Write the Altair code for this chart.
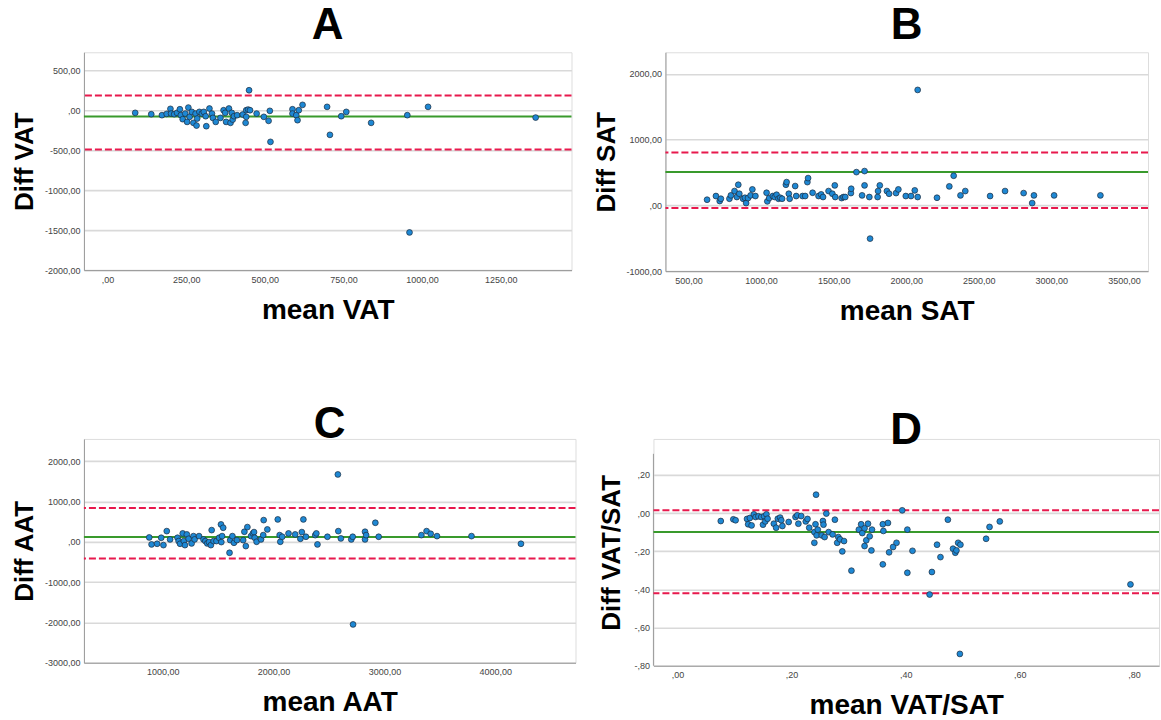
import altair as alt
import pandas as pd

FONT = "Liberation Sans"

# ---------------- Panel A: VAT ----------------
a_mean = [88, 139, 173, 188, 200, 202, 212, 221, 230, 233, 239, 247, 253, 257, 261, 268, 273, 280, 283, 285,
          292, 300, 306, 312, 314, 324, 332, 335, 344, 359, 369, 374, 377, 386, 391, 395, 398, 402, 412, 430,
          439, 441, 441, 447, 450, 453, 474, 497, 512, 516, 518, 588, 588, 600, 604, 608, 620, 698, 707, 743,
          759, 838, 953, 960, 1019, 1361]
a_diff = [-33, -50, -62, -46, 17, -42, -50, -33, 12, -62, -112, -42, -146, 33, -83, -21, -158, -42, -192, -104,
          -21, -42, -21, -75, -200, 21, -42, -96, -146, -96, 0, -33, -146, 21, -158, -33, -117, -75, -62, -54,
          -158, -83, 0, 8, 250, 0, -42, -83, -133, -8, -396, 12, -42, -62, -125, 0, 67, 42, -308, -75,
          -21, -158, -62, -1529, 42, -92]
a_limits = [185, -78, -490]  # upper LoA, bias, lower LoA

# ---------------- Panel B: SAT ----------------
b_mean = [628, 689, 715, 723, 782, 792, 817, 833, 843, 850, 876, 889, 897, 910, 928, 940, 961, 1038, 1043, 1056,
          1081, 1094, 1107, 1120, 1132, 1145, 1171, 1176, 1191, 1197, 1235, 1242, 1286, 1304, 1319, 1324, 1355, 1396,
          1414, 1427, 1465, 1491, 1508, 1511, 1555, 1568, 1580, 1619, 1621, 1657, 1696, 1713, 1713, 1746, 1751, 1803,
          1806, 1818, 1867, 1882, 1930, 1946, 1997, 2033, 2059, 2079, 2079, 2212, 2297, 2327, 2374, 2407, 2578, 2681,
          2809, 2868, 2880, 3019, 3338]
b_diff = [86, 142, 66, 101, 101, 152, 218, 127, 314, 177, 101, 116, 35, 111, 152, 243, 142, 192, 61, 111,
          142, 127, 162, 101, 116, 101, 314, 354, 177, 101, 294, 142, 142, 142, 354, 415, 192, 142,
          167, 127, 218, 177, 304, 127, 111, 127, 127, 187, 253, 506, 152, 522, 304, 127, -506, 127,
          218, 304, 218, 177, 187, 243, 142, 142, 228, 1757, 127, 116, 289, 451, 152, 218, 142, 218,
          187, 35, 152, 152, 152]
b_limits = [805, 506, -40]

# ---------------- Panel C: AAT ----------------
c_mean = [879, 900, 950, 987, 1007, 1037, 1067, 1134, 1144, 1157, 1181, 1191, 1201, 1218, 1234, 1261, 1278, 1288,
          1328, 1368, 1385, 1402, 1418, 1435, 1442, 1459, 1485, 1509, 1526, 1529, 1546, 1536, 1603, 1609, 1629,
          1643, 1670, 1726, 1737, 1750, 1764, 1797, 1814, 1824, 1830, 1847, 1887, 1907, 1911, 1944, 2038, 2055,
          2061, 2078, 2135, 2195, 2242, 2255, 2269, 2292, 2376, 2386, 2396, 2486, 2580, 2584, 2607, 2701, 2714,
          2717, 2825, 2825, 2835, 2918, 2948, 3333, 3380, 3417, 3474, 3785, 4231]
c_diff = [107, -66, -50, 99, -83, 264, 58, 99, 17, -50, 207, 17, -83, 182, 74, -41, 140, 58,
          140, 58, 17, -41, -8, -83, 289, 17, 17, 99, 430, -8, 347, 140, -273, 41, 140,
          -25, 41, 41, 248, -107, 364, 140, 207, 240, 99, 0, 58, 165, 537, 306, 554, 165,
          0, 124, 207, 182, 74, 240, 554, 124, 165, 207, -66, 124, 1669, 264, 83, 58, 124,
          -2050, 58, 248, 165, 471, 124, 165, 264, 198, 140, 140, -50]
c_limits = [835, 116, -413]

# ---------------- Panel D: VAT/SAT ----------------
d_mean = [0.076, 0.098, 0.102, 0.122, 0.124, 0.127, 0.130, 0.134, 0.137, 0.142, 0.147, 0.150, 0.152, 0.154, 0.156,
          0.158, 0.169, 0.173, 0.176, 0.180, 0.182, 0.184, 0.195, 0.207, 0.210, 0.212, 0.217, 0.225, 0.228, 0.231,
          0.240, 0.240, 0.242, 0.243, 0.244, 0.246, 0.253, 0.255, 0.256, 0.258, 0.261, 0.265, 0.272, 0.276, 0.280,
          0.282, 0.285, 0.289, 0.292, 0.305, 0.318, 0.322, 0.324, 0.328, 0.328, 0.331, 0.334, 0.337, 0.340, 0.341,
          0.360, 0.360, 0.361, 0.369, 0.371, 0.378, 0.384, 0.394, 0.403, 0.403, 0.412, 0.442, 0.446, 0.455, 0.461,
          0.474, 0.483, 0.487, 0.489, 0.492, 0.495, 0.496, 0.541, 0.547, 0.565, 0.794]
d_diff = [-0.042, -0.033, -0.038, -0.031, -0.059, -0.026, -0.065, -0.007, -0.021, -0.017, -0.021, -0.061, -0.017,
          -0.044, -0.007, -0.030, -0.056, -0.077, -0.030, -0.024, -0.038, -0.068, -0.047, -0.021, -0.012, -0.056,
          -0.016, -0.044, -0.031, -0.077, -0.100, -0.156, -0.059, 0.096, -0.117, -0.087, -0.117, -0.042, -0.061,
          -0.126, -0.003, -0.100, -0.112, -0.035, -0.156, -0.126, -0.138, -0.201, -0.147, -0.302, -0.087, -0.059,
          -0.105, -0.080, -0.173, -0.143, -0.056, -0.122, -0.196, -0.087, -0.059, -0.269, -0.094, -0.052, -0.206,
          -0.178, -0.156, 0.014, -0.087, -0.313, -0.198, -0.427, -0.309, -0.166, -0.231, -0.035, -0.187, -0.208,
          -0.196, -0.156, -0.738, -0.166, -0.135, -0.073, -0.044, -0.374]
d_limits = [0.014, -0.100, -0.420]

_S = "replace(format(abs(datum.value), '.2f'), '.', ',')"
LABEL_EXPR = f"(datum.value < 0 ? '-' : '') + (abs(datum.value) < 1 ? substring({_S}, 1) : {_S})"
AXIS_GREY = "#9a9a9a"


def panel(mean, diff, limits, xdom, ydom, xticks, yticks, letter, xtitle, ytitle, w, h, ytx, toff,
          axis_top=None):
    pts = pd.DataFrame({"m": mean, "d": diff})
    red = pd.DataFrame({"d": [limits[0], limits[2]]})
    green = pd.DataFrame({"d": [limits[1]]})
    x = alt.X("m:Q", scale=alt.Scale(domain=xdom, nice=False, zero=False),
              axis=alt.Axis(values=xticks, labelExpr=LABEL_EXPR, grid=False, ticks=False,
                            title=xtitle, titleFont=FONT, titleFontSize=28, titleFontWeight="bold",
                            titleColor="black", titleY=40, titleBaseline="middle",
                            labelFont=FONT, labelFontSize=9, labelColor="#444", labelPadding=5,
                            domainColor=AXIS_GREY, domainWidth=1))
    y = alt.Y("d:Q", scale=alt.Scale(domain=ydom, nice=False, zero=False),
              axis=alt.Axis(values=yticks, labelExpr=LABEL_EXPR, grid=True, gridColor="#d9d9d9",
                            gridWidth=1.6, ticks=False, domain=axis_top is None,
                            title=ytitle, titleFont=FONT, titleFontSize=26, titleFontWeight="bold",
                            titleColor="black", titleAngle=-90, titleX=ytx, titleY=h / 2,
                            titleAlign="center", titleBaseline="middle",
                            labelFont=FONT, labelFontSize=9, labelColor="#444", labelPadding=4,
                            domainColor=AXIS_GREY, domainWidth=1))
    layers = []
    if axis_top is not None:
        dom = pd.DataFrame({"d": [axis_top], "d2": [ydom[0]]})
        layers.append(alt.Chart(dom).mark_rule(color=AXIS_GREY, strokeWidth=1).encode(
            x=alt.datum(xdom[0]), y="d:Q", y2="d2:Q"))
    layers.append(alt.Chart(red).mark_rule(color="#e8194d", strokeWidth=2, strokeDash=[7, 3]).encode(y="d:Q"))
    layers.append(alt.Chart(green).mark_rule(color="#399a2c", strokeWidth=2).encode(y="d:Q"))
    layers.append(alt.Chart(pts).mark_circle(size=34, color="#1e88d4", opacity=1, stroke="#1c2b3c",
                                             strokeWidth=0.7).encode(x=x, y=y))
    return alt.layer(*layers).properties(
        width=w, height=h,
        title=alt.TitleParams(letter, font=FONT, fontSize=44, fontWeight="bold", color="black",
                              anchor="middle", offset=toff))


A = panel(a_mean, a_diff, a_limits, [-75, 1475], [-2000, 725], [0, 250, 500, 750, 1000, 1250],
          [-2000, -1500, -1000, -500, 0, 500], "A", "mean VAT", "Diff VAT", 488, 218, -59, 4)
B = panel(b_mean, b_diff, b_limits, [341, 3666], [-1000, 2330], [500, 1000, 1500, 2000, 2500, 3000, 3500],
          [-1000, 0, 1000, 2000], "B", "mean SAT", "Diff SAT", 483, 219, -59, 4)
C = panel(c_mean, c_diff, c_limits, [290, 4723], [-3000, 2550], [1000, 2000, 3000, 4000],
          [-3000, -2000, -1000, 0, 1000, 2000], "C", "mean AAT", "Diff AAT", 492, 224, -59, -8)
D = panel(d_mean, d_diff, d_limits, [-0.042, 0.844], [-0.80, 0.388], [0, 0.2, 0.4, 0.6, 0.8],
          [-0.8, -0.6, -0.4, -0.2, 0, 0.2], "D", "mean VAT/SAT", "Diff VAT/SAT", 506, 227, -42, -14,
          axis_top=0.31)

chart = alt.vconcat(
    alt.hconcat(A, B, spacing=19),
    alt.hconcat(C, D, spacing=20),
    spacing=76,
).properties(
    padding={"left": 11, "top": 3, "right": 0, "bottom": 0}
).configure_view(stroke=None).configure(background="white")

chart.save("out.html", embed_options={"renderer": "svg", "actions": False})
